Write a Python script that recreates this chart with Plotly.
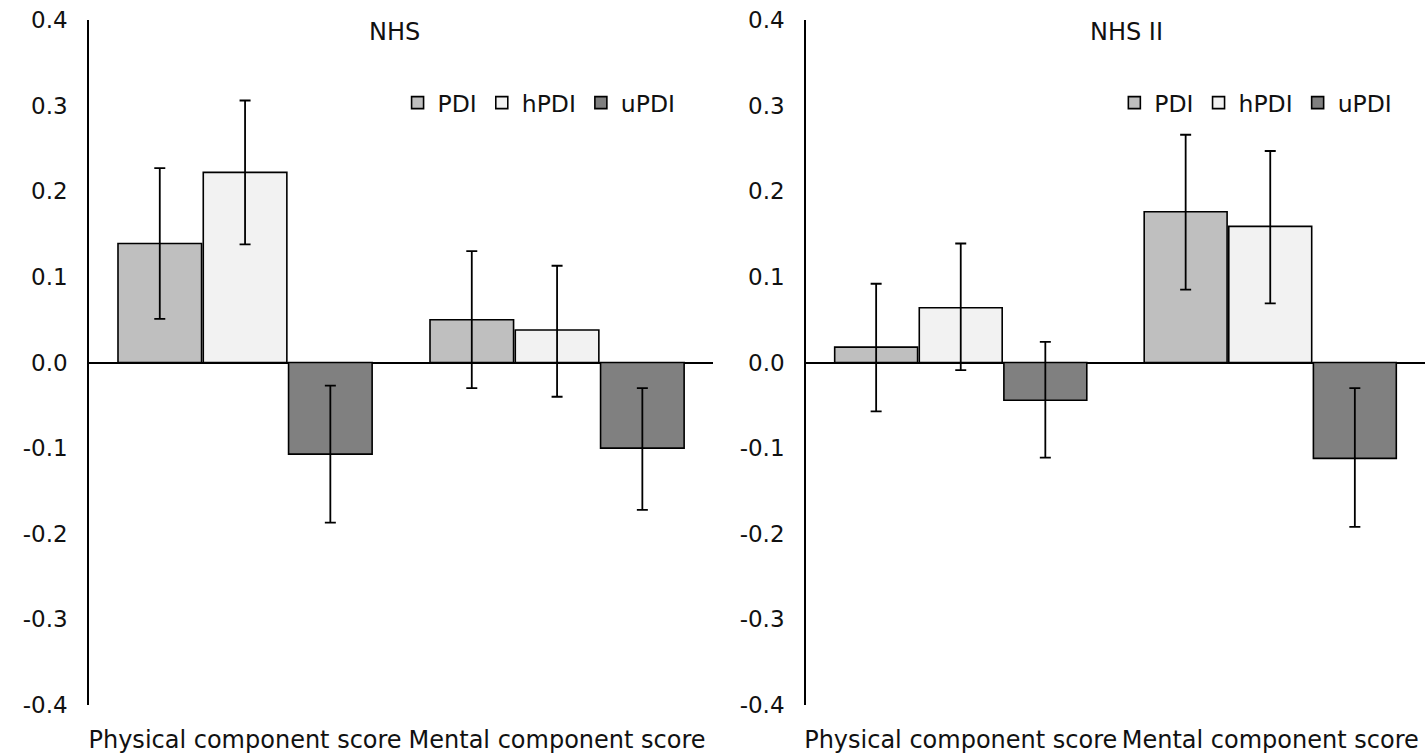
import plotly.graph_objects as go

categories = ["Physical component score", "Mental component score"]
series_names = ["PDI", "hPDI", "uPDI"]
series_colors = ["#BFBFBF", "#F2F2F2", "#808080"]

# NHS (left panel)
nhs_values = {
    "PDI": [0.139, 0.050],
    "hPDI": [0.222, 0.038],
    "uPDI": [-0.107, -0.100],
}
nhs_upper = {
    "PDI": [0.227, 0.130],
    "hPDI": [0.306, 0.113],
    "uPDI": [-0.027, -0.030],
}
nhs_lower = {
    "PDI": [0.051, -0.030],
    "hPDI": [0.138, -0.040],
    "uPDI": [-0.187, -0.172],
}

# NHS II (right panel)
nhs2_values = {
    "PDI": [0.018, 0.176],
    "hPDI": [0.064, 0.159],
    "uPDI": [-0.044, -0.112],
}
nhs2_upper = {
    "PDI": [0.092, 0.266],
    "hPDI": [0.139, 0.247],
    "uPDI": [0.024, -0.030],
}
nhs2_lower = {
    "PDI": [-0.057, 0.085],
    "hPDI": [-0.009, 0.069],
    "uPDI": [-0.111, -0.192],
}

tick_vals = [-0.4, -0.3, -0.2, -0.1, 0.0, 0.1, 0.2, 0.3, 0.4]
tick_text = ["-0.4", "-0.3", "-0.2", "-0.1", "0.0", "0.1", "0.2", "0.3", "0.4"]
panel_titles = ["NHS", "NHS II"]

FONT = "DejaVu Sans"
TXT = "#111111"

fig = go.Figure()

panels = [
    (nhs_values, nhs_upper, nhs_lower, "x", "y", "legend"),
    (nhs2_values, nhs2_upper, nhs2_lower, "x2", "y2", "legend2"),
]
for vals, up, lo, xa, ya, leg in panels:
    for name, color in zip(series_names, series_colors):
        v = vals[name]
        plus = [u - a for u, a in zip(up[name], v)]
        minus = [a - l for l, a in zip(lo[name], v)]
        fig.add_trace(go.Bar(
            x=categories, y=v, name=name,
            marker=dict(color=color, line=dict(color="black", width=1.6)),
            error_y=dict(type="data", array=plus, arrayminus=minus, symmetric=False,
                         color="black", thickness=1.8, width=5.5),
            xaxis=xa, yaxis=ya, legend=leg,
        ))

yaxis_common = dict(
    range=[-0.4, 0.4], tickvals=tick_vals, ticktext=tick_text,
    showgrid=False, showline=True, linecolor="black", linewidth=1.6,
    zeroline=True, zerolinecolor="black", zerolinewidth=1.6,
    ticks="", ticklabelstandoff=15, automargin=False,
    tickfont=dict(family=FONT, size=23, color=TXT),
)
xaxis_common = dict(
    showgrid=False, showline=False, zeroline=False, ticks="",
    ticklabelstandoff=18, tickangle=0, automargin=False,
    tickfont=dict(family=FONT, size=24, color=TXT),
)

legend_common = dict(
    orientation="h", font=dict(family=FONT, size=23.5, color=TXT),
    bgcolor="rgba(0,0,0,0)", itemwidth=30, traceorder="normal",
    xanchor="left", yanchor="middle",
)

fig.update_layout(
    width=1425, height=756,
    margin=dict(l=0, r=0, t=20, b=51),
    paper_bgcolor="white", plot_bgcolor="white",
    barmode="group", bargap=0.18, bargroupgap=0.02,
    xaxis=dict(domain=[0.0625, 0.5004], anchor="y", **xaxis_common),
    xaxis2=dict(domain=[0.5656, 1.0], anchor="y2", **xaxis_common),
    yaxis=dict(anchor="x", **yaxis_common),
    yaxis2=dict(anchor="x2", **yaxis_common),
    legend=dict(x=0.279, y=0.879, **legend_common),
    legend2=dict(x=0.782, y=0.879, **legend_common),
    annotations=[
        dict(text=panel_titles[0], x=395 / 1425, y=0.9825, xref="paper", yref="paper",
             xanchor="center", yanchor="middle", showarrow=False,
             font=dict(family=FONT, size=24, color=TXT)),
        dict(text=panel_titles[1], x=1126 / 1425, y=0.9825, xref="paper", yref="paper",
             xanchor="center", yanchor="middle", showarrow=False,
             font=dict(family=FONT, size=24, color=TXT)),
    ],
)

fig.write_html("out.html", config={"displayModeBar": False},
               post_script="document.body.style.margin='0';")
